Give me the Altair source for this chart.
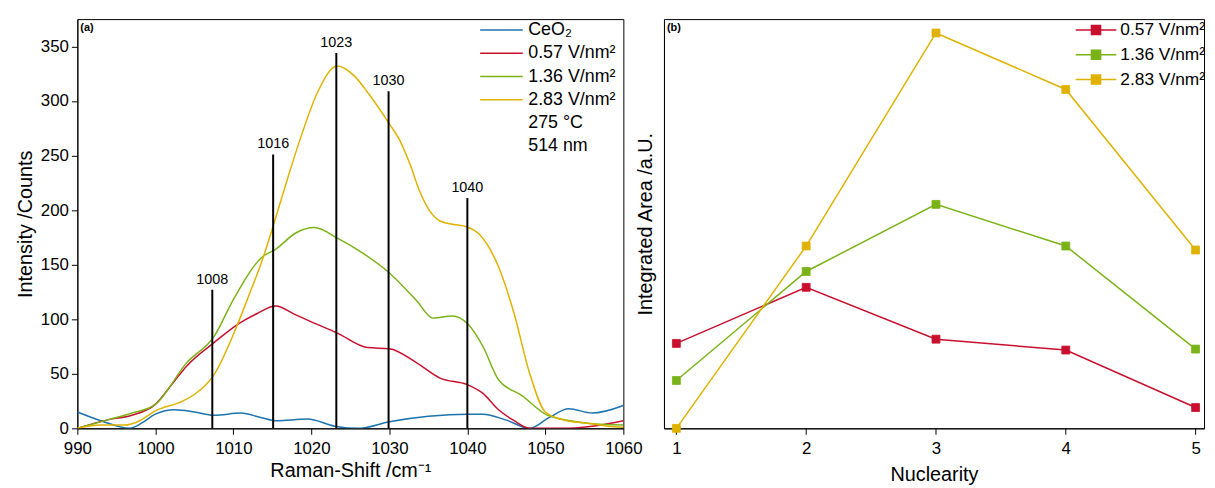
import altair as alt
import pandas as pd

FONT = "Liberation Sans"

# ---------------- panel (a): Raman spectra ----------------
ceo2_x = [990, 993, 996.7, 998.5, 1000, 1002.5, 1005, 1007.5, 1011, 1013.5, 1015.5, 1019.5, 1023, 1026, 1030, 1035, 1040, 1042, 1045, 1048, 1050.5, 1053, 1056, 1060]
ceo2_y = [15, 7, 0, 6, 13, 17, 15, 12, 14, 10, 7, 8.5, 2, 0, 6, 11, 13, 13, 7.5, 0, 10, 18, 14, 21]

e057_x = [990, 994, 997, 1000, 1002.3, 1004, 1007.6, 1010.7, 1013, 1015.4, 1018, 1020, 1023.4, 1027.2, 1030, 1033.5, 1036.5, 1040, 1042, 1044, 1046, 1048, 1052, 1056, 1060]
e057_y = [0, 8, 12, 22, 42, 57, 79, 96, 105, 112, 104, 97.6, 87, 74, 73, 60, 46, 40, 32, 17, 7, 0, 0, 2, 7]

e136_x = [990, 994, 997, 1000, 1004, 1007.6, 1010, 1013.7, 1015.4, 1018, 1020.4, 1023.4, 1026.7, 1029.9, 1033.5, 1035.6, 1038.1, 1040, 1042, 1044, 1047, 1050.3, 1055.7, 1060]
e136_y = [0, 8, 14, 22, 60, 85, 118, 157, 164, 179, 184, 174, 160, 143, 117, 101, 103, 96, 75, 44.5, 30, 12, 4.5, 3]

e283_x = [990, 993, 996, 998, 1000, 1003.5, 1005, 1007.6, 1010, 1012, 1013.7, 1015.3, 1017, 1018.7, 1020.8, 1023.3, 1025.5, 1027.2, 1030, 1031.4, 1032.7, 1033.9, 1035.2, 1036.5, 1038.1, 1039.8, 1041.5, 1044, 1046, 1048, 1050, 1052.5, 1055.7, 1058, 1060]
e283_y = [0, 3, 3, 7, 16, 25, 31, 50, 86, 122, 154, 190, 230, 268, 308, 332, 323, 308, 279, 263, 241, 217, 199, 190, 187, 185, 178, 148, 105, 50, 15, 7.5, 4.5, 2, 1]

series_names = ["CeO₂", "0.57 V/nm²", "1.36 V/nm²", "2.83 V/nm²"]
legend_notes = ["275 °C", "514 nm"]
colors = ["#1b74ae", "#c8102e", "#7ab317", "#dfb200"]

peak_pos = [1007.3, 1015.1, 1023.2, 1029.9, 1040.0]
peak_height = [127, 251, 344, 309, 211]
peak_label = ["1008", "1016", "1023", "1030", "1040"]

# ---------------- panel (b): integrated areas ----------------
nuclearity = [1, 2, 3, 4, 5]
area_057 = [85.7, 142.3, 90, 79, 21]
area_136 = [48.3, 158.3, 226, 184, 80]
area_283 = [0, 184, 399, 342, 180]
field_names = ["0.57 V/nm²", "1.36 V/nm²", "2.83 V/nm²"]
field_colors = ["#c8102e", "#7ab317", "#dfb200"]

# ---------------- tables ----------------
rows = []
for name, xs, ys in zip(series_names, [ceo2_x, e057_x, e136_x, e283_x], [ceo2_y, e057_y, e136_y, e283_y]):
    for x, y in zip(xs, ys):
        rows.append({"shift": x, "intensity": y, "series": name})
spec_df = pd.DataFrame(rows)

peak_df = pd.DataFrame({"pos": peak_pos, "height": peak_height, "label": peak_label, "base": [0] * len(peak_pos)})

rows = []
for name, ys in zip(field_names, [area_057, area_136, area_283]):
    for n, y in zip(nuclearity, ys):
        rows.append({"nuc": n, "area": y, "field": name})
area_df = pd.DataFrame(rows)

# ---------------- panel (a) ----------------
W_A, H = 551, 413
xa = alt.Scale(domain=[990, 1060], nice=False, zero=False)
ya = alt.Scale(domain=[0, 375], nice=False)

x_axis_a = alt.Axis(
    values=list(range(990, 1061, 5)), format="d", labelFlush=False,
    labelExpr="datum.value % 10 === 0 ? datum.label : ''",
    tickSize={"condition": {"test": "datum.value % 10 === 0", "value": 6}, "value": 3},
    title="Raman-Shift /cm⁻¹", titlePadding=5, labelPadding=6, grid=False,
)
y_axis_a = alt.Axis(
    values=list(range(0, 351, 25)), format="d", labelFlush=False,
    labelExpr="datum.value % 50 === 0 ? datum.label : ''",
    tickSize={"condition": {"test": "datum.value % 50 === 0", "value": 6}, "value": 3},
    title="Intensity /Counts", titlePadding=5, labelPadding=3, grid=False,
)

legend_a = alt.Legend(
    title=None, orient="none", legendX=417, legendY=0, padding=0,
    symbolType="M-2.15,0H2.15", symbolSize=400, symbolStrokeWidth=1.5,
    labelFontSize=18, labelFont=FONT, labelColor="black", labelOffset=16, rowPadding=3.5,
)

spec_lines = alt.Chart(spec_df).mark_line(strokeWidth=1.5, interpolate="monotone", clip=True).encode(
    x=alt.X("shift:Q", scale=xa, axis=x_axis_a),
    y=alt.Y("intensity:Q", scale=ya, axis=y_axis_a),
    color=alt.Color("series:N", scale=alt.Scale(domain=series_names + legend_notes,
                                                range=colors + ["transparent", "transparent"]),
                    legend=legend_a),
)

rules = alt.Chart(peak_df).mark_rule(color="black", strokeWidth=2).encode(
    x=alt.X("pos:Q", scale=xa),
    y=alt.Y("base:Q", scale=ya),
    y2="height:Q",
)
peak_text = alt.Chart(peak_df).mark_text(font=FONT, fontSize=14.5, color="black", baseline="bottom", dy=-3).encode(
    x=alt.X("pos:Q", scale=xa),
    y=alt.Y("height:Q", scale=ya),
    text="label:N",
)
tag_a = alt.Chart(pd.DataFrame({"t": ["(a)"]})).mark_text(
    font=FONT, fontSize=11, fontWeight="bold", align="left", baseline="top", color="black"
).encode(text="t:N", x=alt.value(3), y=alt.value(3))

panel_a = alt.layer(spec_lines, rules, peak_text, tag_a).properties(width=W_A, height=H)

# ---------------- panel (b) ----------------
W_B = 545
xb = alt.Scale(domain=[0.9046, 5.065], nice=False, zero=False)
yb = alt.Scale(domain=[0, 413], nice=False)
fb = alt.Scale(domain=field_names, range=field_colors)

x_axis_b = alt.Axis(
    values=[1, 1.5, 2, 2.5, 3, 3.5, 4, 4.5, 5], format="d", labelFlush=False,
    labelExpr="datum.value % 1 === 0 ? datum.label : ''",
    tickSize={"condition": {"test": "datum.value % 1 === 0", "value": 6}, "value": 3},
    title="Nuclearity", titlePadding=9, labelPadding=6, grid=False,
)
y_axis_b = alt.Axis(labels=False, ticks=False, title="Integrated Area /a.U.", titlePadding=9, grid=False)

legend_b = alt.Legend(
    title=None, orient="none", legendX=425, legendY=0, padding=0,
    symbolType="M-2,0H2M-0.45,-0.45H0.45V0.45H-0.45Z", symbolSize=420, symbolStrokeWidth=1.5,
    labelFontSize=17.5, labelFont=FONT, labelColor="black", labelOffset=13.5, rowPadding=5,
)

b_lines = alt.Chart(area_df).mark_line(strokeWidth=1.5).encode(
    x=alt.X("nuc:Q", scale=xb, axis=x_axis_b),
    y=alt.Y("area:Q", scale=yb, axis=y_axis_b),
    stroke=alt.Stroke("field:N", scale=fb, legend=legend_b),
)
b_pts = alt.Chart(area_df).mark_point(shape="square", filled=True, size=64, opacity=1, strokeWidth=0.8).encode(
    x=alt.X("nuc:Q", scale=xb),
    y=alt.Y("area:Q", scale=yb),
    fill=alt.Fill("field:N", scale=fb, legend=legend_b),
    stroke=alt.Stroke("field:N", scale=fb, legend=legend_b),
)
tag_b = alt.Chart(pd.DataFrame({"t": ["(b)"]})).mark_text(
    font=FONT, fontSize=11, fontWeight="bold", align="left", baseline="top", color="black"
).encode(text="t:N", x=alt.value(3), y=alt.value(3))

panel_b = alt.layer(b_lines, b_pts, tag_b).properties(width=W_B, height=H)

chart = alt.hconcat(panel_a, panel_b, spacing=41, bounds="flush").resolve_scale(
    color="independent", fill="independent", stroke="independent"
).properties(
    padding={"left": 7, "top": 8, "right": 0, "bottom": 0}
).configure_view(
    stroke="black", strokeWidth=1
).configure_axis(
    domainColor="black", domainWidth=1, tickColor="black", tickWidth=1,
    labelColor="black", titleColor="black", labelFont=FONT, titleFont=FONT,
    labelFontSize=17, titleFontSize=20, titleFontWeight="normal",
)

chart.save("out.html", embed_options={"renderer": "svg", "actions": False})
